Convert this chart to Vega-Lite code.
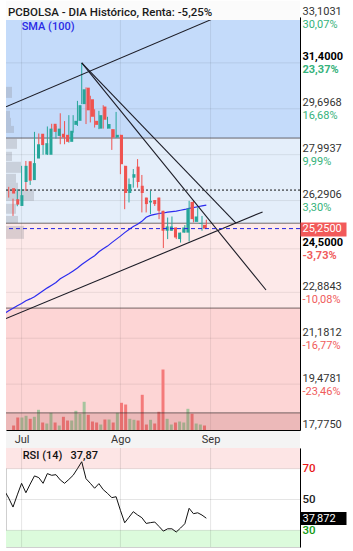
{
 "$schema": "https://vega.github.io/schema/vega-lite/v6.json",
 "padding": {"left": 5, "top": 0, "right": 2, "bottom": 5},
 "background": "#ffffff",
 "bounds": "flush",
 "spacing": 18,
 "config": {
  "font": "Roboto",
  "view": {"stroke": "#cfcfcf", "strokeWidth": 1},
  "axis": {"labelFont": "Roboto"},
  "title": {"font": "Roboto", "subtitleFont": "Roboto"}
 },
 "datasets": {
  "candles": [
   {"i":0,"o":26.75,"h":26.80,"l":26.40,"c":26.55,"v":4500},
   {"i":1,"o":26.34,"h":26.36,"l":25.72,"c":26.14,"v":12500},
   {"i":2,"o":26.09,"h":26.71,"l":26.08,"c":26.49,"v":12500},
   {"i":3,"o":26.98,"h":27.58,"l":26.38,"c":27.58,"v":14200},
   {"i":4,"o":27.75,"h":27.76,"l":26.65,"c":27.03,"v":11200},
   {"i":5,"o":27.05,"h":27.69,"l":26.87,"c":27.68,"v":13200},
   {"i":6,"o":27.85,"h":28.84,"l":27.61,"c":28.38,"v":20200},
   {"i":7,"o":28.77,"h":28.78,"l":28.00,"c":28.35,"v":7500},
   {"i":8,"o":28.00,"h":28.47,"l":27.99,"c":28.42,"v":6500},
   {"i":9,"o":27.99,"h":29.04,"l":27.98,"c":28.96,"v":17200},
   {"i":10,"o":29.14,"h":29.14,"l":28.69,"c":28.84,"v":7500},
   {"i":11,"o":28.69,"h":29.06,"l":28.59,"c":28.96,"v":4500},
   {"i":12,"o":28.77,"h":29.53,"l":28.38,"c":28.63,"v":13200},
   {"i":13,"o":28.73,"h":29.24,"l":28.38,"c":28.47,"v":9500},
   {"i":14,"o":28.47,"h":29.46,"l":28.44,"c":28.88,"v":9500},
   {"i":15,"o":29.10,"h":29.46,"l":28.81,"c":29.25,"v":19200},
   {"i":16,"o":29.25,"h":29.99,"l":29.06,"c":29.83,"v":16200},
   {"i":17,"o":29.87,"h":31.40,"l":29.87,"c":30.42,"v":28200},
   {"i":18,"o":30.48,"h":30.49,"l":29.13,"c":29.64,"v":15200},
   {"i":19,"o":30.05,"h":30.18,"l":29.19,"c":29.40,"v":8500},
   {"i":20,"o":29.25,"h":29.68,"l":29.00,"c":29.10,"v":7500},
   {"i":21,"o":28.96,"h":29.62,"l":28.94,"c":29.46,"v":5500},
   {"i":22,"o":29.78,"h":29.83,"l":28.96,"c":29.29,"v":10500},
   {"i":23,"o":28.96,"h":29.40,"l":28.96,"c":29.13,"v":10500},
   {"i":24,"o":28.94,"h":28.94,"l":28.17,"c":28.63,"v":7500},
   {"i":25,"o":28.63,"h":29.58,"l":28.62,"c":28.73,"v":17200},
   {"i":26,"o":28.73,"h":28.73,"l":27.27,"c":27.64,"v":27200},
   {"i":27,"o":27.58,"h":27.58,"l":25.97,"c":26.57,"v":25500},
   {"i":28,"o":26.57,"h":27.11,"l":26.22,"c":26.90,"v":11200},
   {"i":29,"o":27.14,"h":27.46,"l":26.77,"c":27.27,"v":10200},
   {"i":30,"o":27.55,"h":27.83,"l":26.77,"c":26.98,"v":9500},
   {"i":31,"o":26.84,"h":27.24,"l":25.85,"c":26.57,"v":35200},
   {"i":32,"o":26.40,"h":26.40,"l":25.85,"c":26.16,"v":5500},
   {"i":33,"o":26.22,"h":26.65,"l":25.79,"c":26.28,"v":10200},
   {"i":34,"o":26.31,"h":26.31,"l":26.09,"c":26.16,"v":6500},
   {"i":35,"o":26.40,"h":26.40,"l":25.60,"c":25.91,"v":18200},
   {"i":36,"o":25.91,"h":25.91,"l":24.53,"c":25.17,"v":60500},
   {"i":37,"o":25.17,"h":25.66,"l":24.86,"c":25.33,"v":11200},
   {"i":38,"o":25.17,"h":25.70,"l":25.17,"c":25.33,"v":5500},
   {"i":39,"o":25.29,"h":25.29,"l":24.86,"c":24.92,"v":7500},
   {"i":40,"o":24.86,"h":25.10,"l":24.73,"c":25.10,"v":8500},
   {"i":41,"o":25.10,"h":25.38,"l":25.10,"c":25.29,"v":7500},
   {"i":42,"o":25.10,"h":26.28,"l":24.77,"c":25.99,"v":21200},
   {"i":43,"o":26.24,"h":26.28,"l":25.48,"c":25.60,"v":16200},
   {"i":44,"o":25.50,"h":26.03,"l":25.50,"c":25.70,"v":6500},
   {"i":45,"o":25.42,"h":25.72,"l":25.17,"c":25.45,"v":5500},
   {"i":46,"o":25.39,"h":25.58,"l":25.25,"c":25.25,"v":4500}
  ],
  "sma": [
   {"i":-1,"s":22.10},{"i":0,"s":22.20},{"i":1,"s":22.29},{"i":2,"s":22.39},{"i":3,"s":22.47},{"i":4,"s":22.57},
   {"i":5,"s":22.64},{"i":6,"s":22.72},{"i":7,"s":22.83},{"i":8,"s":22.94},{"i":9,"s":23.05},{"i":10,"s":23.15},
   {"i":11,"s":23.25},{"i":12,"s":23.39},{"i":13,"s":23.48},{"i":14,"s":23.57},{"i":15,"s":23.68},{"i":16,"s":23.79},
   {"i":17,"s":23.92},{"i":18,"s":24.03},{"i":19,"s":24.14},{"i":20,"s":24.24},{"i":21,"s":24.39},{"i":22,"s":24.50},
   {"i":23,"s":24.60},{"i":24,"s":24.73},{"i":25,"s":24.85},{"i":26,"s":24.97},{"i":27,"s":25.10},{"i":28,"s":25.22},
   {"i":29,"s":25.33},{"i":30,"s":25.41},{"i":31,"s":25.52},{"i":32,"s":25.67},{"i":33,"s":25.74},{"i":34,"s":25.78},
   {"i":35,"s":25.81},{"i":36,"s":25.83},{"i":37,"s":25.86},{"i":38,"s":25.88},{"i":39,"s":25.90},{"i":40,"s":25.93},
   {"i":41,"s":25.96},{"i":42,"s":26.00},{"i":43,"s":26.03},{"i":44,"s":26.06},{"i":45,"s":26.09},{"i":46,"s":26.12}
  ],
  "rsi": [
   {"i":-1,"r":55.8},{"i":0,"r":50.9},{"i":1,"r":45.1},{"i":2,"r":53},{"i":3,"r":60.5},{"i":4,"r":54.4},
   {"i":5,"r":60},{"i":6,"r":65.3},{"i":7,"r":64.2},{"i":8,"r":60.5},{"i":9,"r":66.8},{"i":10,"r":65.7},
   {"i":11,"r":66.1},{"i":12,"r":62.7},{"i":13,"r":60.5},{"i":14,"r":63},{"i":15,"r":65.7},{"i":16,"r":70},
   {"i":17,"r":74.5},{"i":18,"r":63.5},{"i":19,"r":60.5},{"i":20,"r":57.3},{"i":21,"r":60.3},{"i":22,"r":56.4},
   {"i":23,"r":54},{"i":24,"r":51.2},{"i":25,"r":51.8},{"i":26,"r":43},{"i":27,"r":34.9},{"i":28,"r":38.5},
   {"i":29,"r":42.1},{"i":30,"r":40},{"i":31,"r":38.2},{"i":32,"r":34.5},{"i":33,"r":35},{"i":34,"r":35.4},
   {"i":35,"r":32.5},{"i":36,"r":29.5},{"i":37,"r":31},{"i":38,"r":31},{"i":39,"r":28.9},{"i":40,"r":31.5},
   {"i":41,"r":34.3},{"i":42,"r":44.3},{"i":43,"r":40.8},{"i":44,"r":41.4},{"i":45,"r":39.9},{"i":46,"r":37.87}
  ],
  "zones": [
   {"zone":"z1","lo":28.61,"hi":40},
   {"zone":"z2","lo":25.45,"hi":28.61},
   {"zone":"z3","lo":22.30,"hi":25.45},
   {"zone":"z4","lo":0,"hi":22.30}
  ],
  "grid": [{"t":31.4},{"t":29.6968},{"t":27.9937},{"t":26.2906},{"t":24.5},{"t":22.8843},{"t":21.1812},{"t":19.4781}],
  "months": [{"i":3,"m":"Jul"},{"i":26,"m":"Ago"},{"i":47,"m":"Sep"}],
  "profile": [
   {"lo":30.10,"hi":30.51,"pv":6000},
   {"lo":29.36,"hi":29.62,"pv":4000},
   {"lo":29.06,"hi":29.36,"pv":5000},
   {"lo":28.80,"hi":29.06,"pv":8000},
   {"lo":28.21,"hi":28.58,"pv":11000},
   {"lo":27.76,"hi":28.10,"pv":6000},
   {"lo":27.32,"hi":27.73,"pv":15000},
   {"lo":26.95,"hi":27.28,"pv":10000},
   {"lo":26.72,"hi":26.95,"pv":12000},
   {"lo":26.28,"hi":26.72,"pv":28000},
   {"lo":25.80,"hi":26.17,"pv":10000},
   {"lo":25.46,"hi":25.72,"pv":12000},
   {"lo":24.87,"hi":25.35,"pv":18000}
  ],
  "levels": [{"p":28.61},{"p":25.45},{"p":22.30},{"p":18.41}],
  "volpane": [{"lo":17.775,"hi":18.41}],
  "trend": [
   {"n":"A","i":-0.63,"p":29.77},{"n":"A","i":48.5,"p":33.10},
   {"n":"B","i":17,"p":31.40},{"n":"B","i":52.9,"p":25.45},
   {"n":"C","i":17,"p":31.40},{"n":"C","i":59.9,"p":22.97},
   {"n":"D","i":-0.63,"p":21.91},{"n":"D","i":59.1,"p":25.87}
  ],
  "rsizones": [{"lo":70,"hi":100},{"lo":0,"hi":30}],
  "rsilevels": [{"r":70},{"r":50},{"r":30}]
 },
 "vconcat": [
  {
   "width": 294,
   "height": 413,
   "title": {"text": "PCBOLSA - DIA Histórico, Renta: -5,25%", "subtitle": "\u200b\u00a0\u00a0\u00a0\u00a0\u00a0SMA (100)", "anchor": "start", "frame": "group", "orient": "top", "offset": -31.5, "dx": 2, "fontSize": 11.5, "fontWeight": 500, "color": "#1a1a1a", "subtitleColor": "#2a2ae6", "subtitleFontSize": 11, "subtitleFontWeight": 500, "subtitlePadding": 3},
   "resolve": {"scale": {"x": "independent", "y": "independent"}},
   "layer": [
    {"data": {"name": "zones"}, "mark": {"type": "rect", "clip": true},
     "encoding": {
      "y": {"field": "lo", "type": "quantitative", "scale": {"domain": [17.775, 33.1031], "nice": false, "zero": false}, "axis": null},
      "y2": {"field": "hi"},
      "color": {"condition": [{"test": "datum.lo >= 28", "value": "#c4dbfa"}, {"test": "datum.lo >= 25", "value": "#e4eefa"}, {"test": "datum.lo >= 22", "value": "#fde9e9"}], "value": "#fdd5d5"}
     }},
    {"data": {"name": "grid"}, "mark": {"type": "rule", "color": "#000", "opacity": 0.08},
     "encoding": {
      "y": {"field": "t", "type": "quantitative", "scale": {"domain": [17.775, 33.1031], "nice": false, "zero": false},
       "axis": {"orient": "right", "values": [33.1031, 31.4, 29.6968, 27.9937, 26.2906, 24.5, 22.8843, 21.1812, 19.4781, 17.775],
        "labelExpr": "replace(format(datum.value, '.4f'), '.', ',')",
        "ticks": false, "tickSize": 0, "labelPadding": 2, "labelBaseline": "bottom", "labelOffset": -1, "labelFontSize": 11,
        "labelColor": {"condition": {"test": "datum.value == 31.4 || datum.value == 24.5", "value": "#000"}, "value": "#333"},
        "labelFontWeight": {"condition": {"test": "datum.value == 31.4 || datum.value == 24.5", "value": "bold"}, "value": "normal"},
        "domain": true, "domainColor": "#000", "domainWidth": 1, "grid": false, "title": null,
        "labelOverlap": false, "labelFlush": false, "labelBound": false, "zindex": 1}}
     }},
    {"data": {"name": "months"}, "mark": {"type": "rule", "color": "#000", "opacity": 0.08},
     "encoding": {
      "x": {"field": "i", "type": "quantitative", "scale": {"domain": [-0.63, 67.81], "nice": false, "zero": false},
       "axis": {"orient": "bottom", "values": [3, 26, 47], "labelExpr": "datum.value == 3 ? 'Jul' : datum.value == 26 ? 'Ago' : 'Sep'",
        "ticks": false, "tickSize": 0, "labelPadding": 9.5, "labelBaseline": "middle", "labelFontSize": 11, "labelColor": "#333",
        "domain": true, "domainColor": "#000", "grid": false, "title": null, "labelFlush": false, "labelOverlap": false, "zindex": 1}}
     }},
    {"data": {"name": "profile"}, "mark": {"type": "rect", "color": "#8c8c96", "opacity": 0.3},
     "encoding": {
      "x": {"field": "pv", "type": "quantitative", "scale": {"domain": [0, 294000], "nice": false, "zero": false}, "axis": null},
      "x2": {"datum": 0},
      "y": {"field": "lo", "type": "quantitative", "scale": {"domain": [17.775, 33.1031], "nice": false, "zero": false}, "axis": null},
      "y2": {"field": "hi"}
     }},
    {"data": {"name": "candles"}, "mark": {"type": "bar", "width": 3},
     "encoding": {
      "x": {"field": "i", "type": "quantitative", "scale": {"domain": [-0.63, 67.81], "nice": false, "zero": false}, "axis": null},
      "y": {"field": "v", "type": "quantitative", "scale": {"domain": [0, 413000], "nice": false}, "axis": null},
      "color": {"condition": {"test": "datum.c >= datum.o", "value": "#a6c49e"}, "value": "#f47a7a"}
     }},
    {"data": {"name": "volpane"}, "mark": {"type": "rect", "color": "#a03c3c", "opacity": 0.18},
     "encoding": {
      "y": {"field": "lo", "type": "quantitative", "scale": {"domain": [17.775, 33.1031], "nice": false, "zero": false}, "axis": null},
      "y2": {"field": "hi"}
     }},
    {"data": {"name": "levels"}, "mark": {"type": "rule", "color": "#3b3030", "opacity": 0.7},
     "encoding": {
      "y": {"field": "p", "type": "quantitative", "scale": {"domain": [17.775, 33.1031], "nice": false, "zero": false},
       "axis": {"orient": "right", "values": [33.1031, 31.4, 29.6968, 27.9937, 26.2906, 24.5, 22.8843, 21.1812, 19.4781],
        "labelExpr": "['30,07%','23,37%','16,68%','9,99%','3,30%','-3,73%','-10,08%','-16,77%','-23,46%'][indexof([33.1031,31.4,29.6968,27.9937,26.2906,24.5,22.8843,21.1812,19.4781], datum.value)]",
        "ticks": false, "tickSize": 0, "labelPadding": 2, "labelBaseline": "top", "labelOffset": 1, "labelFontSize": 11,
        "labelColor": {"condition": {"test": "datum.value > 25.45", "value": "#35b27a"}, "value": "#f05c5c"},
        "labelFontWeight": {"condition": {"test": "datum.value == 31.4 || datum.value == 24.5", "value": "bold"}, "value": "normal"},
        "domain": false, "grid": false, "title": null, "labelOverlap": false, "labelFlush": false, "labelBound": false, "zindex": 1}}
     }},
    {"data": {"values": [{"p": 26.68}]}, "mark": {"type": "rule", "color": "#111", "strokeDash": [2, 2]},
     "encoding": {
      "y": {"field": "p", "type": "quantitative", "scale": {"domain": [17.775, 33.1031], "nice": false, "zero": false}, "axis": null}
     }},
    {"data": {"name": "sma"}, "mark": {"type": "line", "color": "#2b2bef", "strokeWidth": 1.2, "clip": true},
     "encoding": {
      "x": {"field": "i", "type": "quantitative", "scale": {"domain": [-0.63, 67.81], "nice": false, "zero": false}, "axis": null},
      "y": {"field": "s", "type": "quantitative", "scale": {"domain": [17.775, 33.1031], "nice": false, "zero": false}, "axis": null}
     }},
    {"data": {"name": "candles"}, "mark": {"type": "rule", "strokeWidth": 1},
     "encoding": {
      "x": {"field": "i", "type": "quantitative", "scale": {"domain": [-0.63, 67.81], "nice": false, "zero": false}, "axis": null},
      "y": {"field": "l", "type": "quantitative", "scale": {"domain": [17.775, 33.1031], "nice": false, "zero": false}, "axis": null},
      "y2": {"field": "h"},
      "color": {"condition": {"test": "datum.c >= datum.o", "value": "#26a69a"}, "value": "#ef5350"}
     }},
    {"data": {"name": "candles"}, "mark": {"type": "bar", "width": 3},
     "encoding": {
      "x": {"field": "i", "type": "quantitative", "scale": {"domain": [-0.63, 67.81], "nice": false, "zero": false}, "axis": null},
      "y": {"field": "o", "type": "quantitative", "scale": {"domain": [17.775, 33.1031], "nice": false, "zero": false}, "axis": null},
      "y2": {"field": "c"},
      "color": {"condition": {"test": "datum.c >= datum.o", "value": "#26a69a"}, "value": "#ef5350"}
     }},
    {"data": {"name": "trend"}, "mark": {"type": "line", "color": "#1c1c26", "strokeWidth": 1.1, "clip": true},
     "encoding": {
      "x": {"field": "i", "type": "quantitative", "scale": {"domain": [-0.63, 67.81], "nice": false, "zero": false}, "axis": null},
      "y": {"field": "p", "type": "quantitative", "scale": {"domain": [17.775, 33.1031], "nice": false, "zero": false}, "axis": null},
      "detail": {"field": "n"}
     }},
    {"data": {"values": [{"p": 25.25}]}, "mark": {"type": "rule", "color": "#2424e0", "strokeDash": [4, 3]},
     "encoding": {
      "y": {"field": "p", "type": "quantitative", "scale": {"domain": [17.775, 33.1031], "nice": false, "zero": false},
       "axis": {"orient": "right", "values": [25.25], "labelExpr": "replace(format(datum.value, '.4f'), '.', ',')",
        "ticks": true, "tickSize": 46, "tickWidth": 14, "tickColor": "#f25a5a", "labelPadding": -44, "labelColor": "#ffffff",
        "labelFontSize": 11, "labelBaseline": "middle", "domain": false, "grid": false, "title": null, "labelOverlap": false, "labelBound": false, "zindex": 1}}
     }},
    {"data": {"values": [{}]}, "mark": {"type": "rect", "color": "#fbfbfb"},
     "encoding": {
      "y": {"datum": 32.996, "type": "quantitative", "scale": {"domain": [17.775, 33.1031], "nice": false, "zero": false}, "axis": null},
      "y2": {"datum": 33.71}
     }},
    {"data": {"values": [{}]}, "mark": {"type": "rect", "color": "#f4f4f4"},
     "encoding": {
      "y": {"datum": 17.10, "type": "quantitative", "scale": {"domain": [17.775, 33.1031], "nice": false, "zero": false}, "axis": null},
      "y2": {"datum": 17.757}
     }}
   ]
  },
  {
   "width": 294,
   "height": 99,
   "title": {"text": "RSI (14)\u00a0\u00a0\u00a037,87", "anchor": "start", "frame": "group", "orient": "top", "offset": -13.5, "dx": 16.7, "fontSize": 11, "fontWeight": 500, "color": "#111"},
   "resolve": {"scale": {"y": "independent"}},
   "layer": [
    {"data": {"name": "rsizones"}, "mark": {"type": "rect", "clip": true},
     "encoding": {
      "y": {"field": "lo", "type": "quantitative", "scale": {"domain": [19.2, 83.4], "nice": false, "zero": false}, "axis": null},
      "y2": {"field": "hi"},
      "color": {"condition": {"test": "datum.lo >= 70", "value": "#fde5e5"}, "value": "#dcfbdc"}
     }},
    {"data": {"name": "rsilevels"}, "mark": {"type": "rule", "color": "#000", "opacity": 0.1},
     "encoding": {
      "y": {"field": "r", "type": "quantitative", "scale": {"domain": [19.2, 83.4], "nice": false, "zero": false},
       "axis": {"orient": "right", "values": [70, 50, 30], "ticks": false, "tickSize": 0, "labelPadding": 2, "labelBaseline": "middle",
        "labelFontSize": 11.5, "labelFontWeight": 500,
        "labelColor": {"condition": [{"test": "datum.value == 70", "value": "#e81818"}, {"test": "datum.value == 30", "value": "#119a11"}], "value": "#222"},
        "domain": true, "domainColor": "#000", "grid": false, "title": null, "labelOverlap": false, "labelBound": false, "labelFlush": false, "zindex": 1}}
     }},
    {"data": {"name": "months"}, "mark": {"type": "rule", "color": "#000", "opacity": 0.1},
     "encoding": {
      "x": {"field": "i", "type": "quantitative", "scale": {"domain": [-0.63, 67.81], "nice": false, "zero": false}, "axis": null}
     }},
    {"data": {"name": "rsi"}, "mark": {"type": "line", "color": "#111", "strokeWidth": 1, "clip": true},
     "encoding": {
      "x": {"field": "i", "type": "quantitative", "scale": {"domain": [-0.63, 67.81], "nice": false, "zero": false}, "axis": null},
      "y": {"field": "r", "type": "quantitative", "scale": {"domain": [19.2, 83.4], "nice": false, "zero": false},
       "axis": {"orient": "right", "values": [37.872], "labelExpr": "replace(format(datum.value, '.3f'), '.', ',')",
        "ticks": true, "tickSize": 46, "tickWidth": 13, "tickColor": "#000", "labelPadding": -44, "labelColor": "#ffffff",
        "labelFontSize": 11, "labelBaseline": "middle", "domain": false, "grid": false, "title": null, "labelOverlap": false, "labelBound": false, "zindex": 1}}
     }}
   ]
  }
 ]
}
